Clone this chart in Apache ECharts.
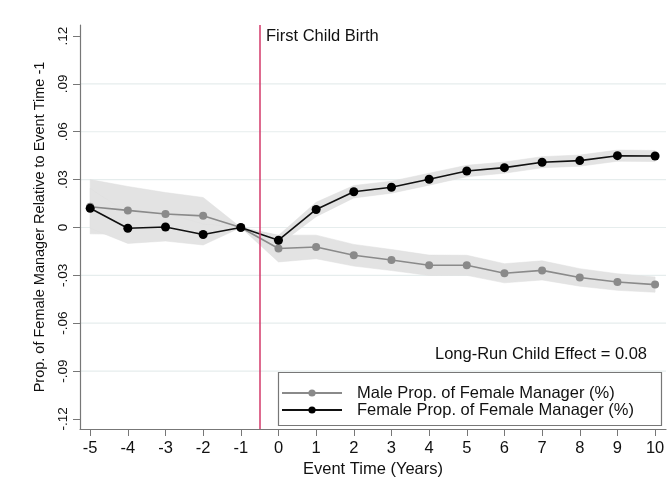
<!DOCTYPE html>
<html>
<head>
<meta charset="utf-8">
<script src="https://cdn.jsdelivr.net/npm/echarts@6/dist/echarts.min.js"></script>
<style>
  html, body { margin: 0; padding: 0; background: #fff; }
  #chart { width: 672px; height: 490px; }
</style>
</head>
<body>
<div id="chart"></div>
<script>
// Event time relative to first child birth
const eventTime = [-5, -4, -3, -2, -1, 0, 1, 2, 3, 4, 5, 6, 7, 8, 9, 10];

// Male employees: proportion of female managers (relative to t = -1)
const maleEst   = [0.013, 0.0107, 0.0084, 0.0073, 0, -0.0132, -0.0122, -0.0174, -0.0204, -0.0237, -0.0237, -0.0287, -0.0269, -0.0313, -0.0342, -0.0358];
const maleLower = [-0.004, -0.0043, -0.0051, -0.0042, 0, -0.0216, -0.0196, -0.0242, -0.027, -0.0301, -0.030, -0.0347, -0.0329, -0.0368, -0.0394, -0.0406];
const maleUpper = [0.030, 0.0257, 0.0219, 0.0188, 0, -0.0048, -0.0048, -0.0106, -0.0138, -0.0173, -0.0174, -0.0227, -0.0209, -0.0258, -0.029, -0.031];

// Female employees: proportion of female managers (relative to t = -1)
const femaleEst   = [0.012, -0.0005, 0.0003, -0.0044, 0, -0.008, 0.0113, 0.0224, 0.0252, 0.0302, 0.0354, 0.0375, 0.0409, 0.0419, 0.045, 0.0448];
const femaleLower = [-0.0005, -0.010, -0.0085, -0.011, 0, -0.011, 0.0068, 0.0185, 0.0215, 0.0265, 0.0318, 0.034, 0.0374, 0.0384, 0.0415, 0.0413];
const femaleUpper = [0.0245, 0.009, 0.009, 0.0022, 0, -0.005, 0.0158, 0.0263, 0.029, 0.034, 0.039, 0.041, 0.0444, 0.0454, 0.0485, 0.0483];

// Tick positions
const xTicks = [-5, -4, -3, -2, -1, 0, 1, 2, 3, 4, 5, 6, 7, 8, 9, 10];
const yTicks = [-0.12, -0.09, -0.06, -0.03, 0, 0.03, 0.06, 0.09, 0.12];
const yGrid  = [-0.09, -0.06, -0.03, 0, 0.03, 0.06, 0.09];

const eventLine = -0.5;
const effectText = 'Long-Run Child Effect = 0.08';

const FONT = '"Liberation Sans", Arial, Helvetica, sans-serif';
const HFONT = 16.5;   // horizontal text size

function fmtY(v) {
  if (Math.abs(v) < 1e-9) return '0';
  return (v < 0 ? '-' : '') + Math.abs(v).toFixed(2).replace(/^0/, '');
}

function bandData(lo, hi) {
  return eventTime.map((t, i) => [t, lo[i], hi[i]]);
}

// Confidence band drawn as one polygon through the axis scales
function bandRender(lo, hi) {
  return function (params, api) {
    if (params.dataIndex !== 0) return null;
    const pts = [];
    for (let i = 0; i < eventTime.length; i++) pts.push(api.coord([eventTime[i], hi[i]]));
    for (let i = eventTime.length - 1; i >= 0; i--) pts.push(api.coord([eventTime[i], lo[i]]));
    return {
      type: 'polygon',
      shape: { points: pts },
      style: { fill: '#e3e3e3', stroke: '#dedede', lineWidth: 0.5 }
    };
  };
}

// Horizontal grid lines spanning the plot area
function gridRender(params, api) {
  const cs = params.coordSys;
  const y = api.coord([0, api.value(0)])[1];
  return {
    type: 'line',
    shape: { x1: cs.x, y1: y, x2: cs.x + cs.width, y2: y },
    style: { stroke: '#e6eded', lineWidth: 1.2 }
  };
}

const chart = echarts.init(document.getElementById('chart'), null, { renderer: 'canvas' });

chart.setOption({
  animation: false,
  backgroundColor: '#ffffff',
  textStyle: { fontFamily: FONT },
  grid: { left: 80, right: 6, top: 25, bottom: 61, containLabel: false },
  xAxis: {
    type: 'value',
    min: -5.27,
    max: 10.29,
    name: 'Event Time (Years)',
    nameLocation: 'middle',
    nameGap: 29.5,
    nameTextStyle: { color: '#111', fontSize: HFONT, fontFamily: FONT },
    axisLine: { show: true, onZero: false, lineStyle: { color: '#777', width: 1.2 } },
    axisTick: { show: true, length: 7, customValues: xTicks, lineStyle: { color: '#777' } },
    axisLabel: { customValues: xTicks, color: '#111', fontSize: HFONT, margin: 10.5, fontFamily: FONT },
    splitLine: { show: false }
  },
  yAxis: {
    type: 'value',
    min: -0.1263,
    max: 0.1269,
    name: 'Prop. of Female Manager Relative to Event Time -1',
    nameLocation: 'middle',
    nameGap: 32.5,
    nameRotate: 90,
    nameTextStyle: { color: '#111', fontSize: 14.5, fontFamily: FONT },
    axisLine: { show: true, onZero: false, lineStyle: { color: '#777', width: 1.2 } },
    axisTick: { show: true, length: 7, customValues: yTicks, lineStyle: { color: '#777' } },
    axisLabel: { customValues: yTicks, rotate: 90, color: '#111', fontSize: 13.5, margin: 10, formatter: fmtY, fontFamily: FONT },
    splitLine: { show: false }
  },
  legend: {
    orient: 'vertical',
    left: 281,
    top: 384.5,
    padding: 0,
    itemWidth: 60,
    itemHeight: 9,
    itemGap: 0,
    textStyle: { color: '#111', fontSize: HFONT, lineHeight: 17, fontFamily: FONT, padding: [0, 0, 0, 10] },
    data: ['Male Prop. of Female Manager (%)', 'Female Prop. of Female Manager (%)']
  },
  graphic: [
    {
      type: 'rect',
      left: 276, top: 370,
      shape: { width: 383, height: 53 },
      style: { fill: 'none', stroke: '#777', lineWidth: 1.2 },
      z: 100
    },
    {
      type: 'text',
      left: 266, top: 28,
      style: { text: 'First Child Birth', fill: '#111', font: HFONT + 'px ' + FONT },
      z: 100
    },
    {
      type: 'text',
      right: 672 - 647, top: 346,
      style: { text: effectText, fill: '#111', font: HFONT + 'px ' + FONT },
      z: 100
    }
  ],
  series: [
    {
      type: 'custom',
      name: 'gridlines',
      renderItem: gridRender,
      data: yGrid.map(v => [v]),
      encode: { y: 0 },
      silent: true,
      z: 0
    },
    {
      type: 'custom',
      name: 'maleBand',
      renderItem: bandRender(maleLower, maleUpper),
      data: bandData(maleLower, maleUpper),
      encode: { x: 0, y: [1, 2] },
      clip: true,
      z: 1,
      silent: true
    },
    {
      type: 'custom',
      name: 'femaleBand',
      renderItem: bandRender(femaleLower, femaleUpper),
      data: bandData(femaleLower, femaleUpper),
      encode: { x: 0, y: [1, 2] },
      clip: true,
      z: 1,
      silent: true
    },
    {
      type: 'line',
      name: 'Male Prop. of Female Manager (%)',
      data: eventTime.map((t, i) => [t, maleEst[i]]),
      symbol: 'circle',
      symbolSize: 8,
      itemStyle: { color: '#8a8a8a' },
      lineStyle: { color: '#8a8a8a', width: 1.6 },
      z: 3
    },
    {
      type: 'line',
      name: 'Female Prop. of Female Manager (%)',
      data: eventTime.map((t, i) => [t, femaleEst[i]]),
      symbol: 'circle',
      symbolSize: 9,
      itemStyle: { color: '#000' },
      lineStyle: { color: '#111', width: 1.6 },
      z: 4,
      markLine: {
        silent: true,
        symbol: 'none',
        label: { show: false },
        lineStyle: { color: '#d3386a', type: 'solid', width: 1.5 },
        data: [{ xAxis: eventLine }]
      }
    }
  ]
});
</script>
</body>
</html>
